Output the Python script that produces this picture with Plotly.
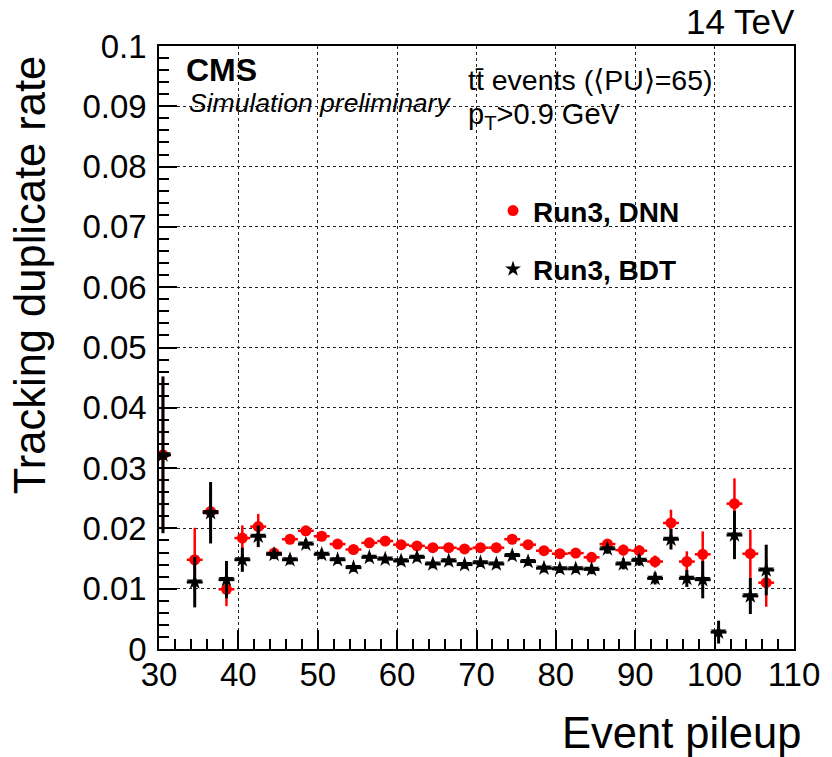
import plotly.graph_objects as go

# Event pileup bin centres
pileup = [30.5, 34.5, 36.5, 38.5, 40.5, 42.5, 44.5, 46.5, 48.5, 50.5,
          52.5, 54.5, 56.5, 58.5, 60.5, 62.5, 64.5, 66.5, 68.5, 70.5,
          72.5, 74.5, 76.5, 78.5, 80.5, 82.5, 84.5, 86.5, 88.5, 90.5,
          92.5, 94.5, 96.5, 98.5, 100.5, 102.5, 104.5, 106.5]

# Duplicate rate, Run3 DNN selection
dnn_rate = [0.0322, 0.0148, 0.0228, 0.0099, 0.0184, 0.0203, 0.0159, 0.0182, 0.0196, 0.0187,
            0.0174, 0.0165, 0.0176, 0.0179, 0.0173, 0.0171, 0.0168, 0.0168, 0.0166, 0.0168,
            0.0168, 0.0182, 0.0173, 0.0163, 0.0158, 0.0159, 0.0152, 0.0174, 0.0164, 0.0163,
            0.0145, 0.0209, 0.0145, 0.0157, None, 0.0241, 0.0158, 0.0110]
dnn_err = [0.0125, 0.0053, 0.0035, 0.0028, 0.0021, 0.0021, 0.0008, 0.0008, 0.0008, 0.0008,
           0.0007, 0.0007, 0.0007, 0.0007, 0.0007, 0.0007, 0.0007, 0.0007, 0.0007, 0.0007,
           0.0007, 0.0007, 0.0007, 0.0007, 0.0007, 0.0007, 0.0008, 0.0008, 0.0009, 0.0009,
           0.0010, 0.0022, 0.0017, 0.0038, 0.0, 0.0042, 0.0040, 0.0040]

# Duplicate rate, Run3 BDT selection
bdt_rate = [0.0322, 0.0111, 0.0226, 0.0115, 0.0148, 0.0187, 0.0157, 0.0148, 0.0174, 0.0157,
            0.0148, 0.0135, 0.0152, 0.0149, 0.0146, 0.0152, 0.0141, 0.0146, 0.0140, 0.0143,
            0.0141, 0.0155, 0.0145, 0.0134, 0.0133, 0.0133, 0.0132, 0.0166, 0.0141, 0.0147,
            0.0117, 0.0182, 0.0117, 0.0115, 0.0028, 0.0189, 0.0088, 0.0131]
bdt_err = [0.0130, 0.0042, 0.0051, 0.0031, 0.0020, 0.0018, 0.0008, 0.0008, 0.0008, 0.0008,
           0.0007, 0.0007, 0.0007, 0.0007, 0.0007, 0.0007, 0.0007, 0.0007, 0.0007, 0.0007,
           0.0007, 0.0007, 0.0007, 0.0007, 0.0007, 0.0007, 0.0008, 0.0008, 0.0009, 0.0009,
           0.0010, 0.0017, 0.0014, 0.0031, 0.0019, 0.0040, 0.0030, 0.0042]

half_bin = 1.0
FONT = "Liberation Sans"

fig = go.Figure()

fig.add_trace(go.Scatter(
    x=pileup, y=dnn_rate, mode="markers", name="<b>Run3, DNN</b>",
    legendgroup="dnn",
    marker=dict(symbol="circle", size=11, color="#ff0000"),
    error_y=dict(type="data", array=dnn_err, color="#ff0000", thickness=2.5, width=0),
    error_x=dict(type="constant", value=half_bin, color="#ff0000", thickness=2.5, width=0),
))
fig.add_trace(go.Scatter(
    x=pileup, y=bdt_rate, mode="markers", name="<b>Run3, BDT</b>",
    legendgroup="bdt",
    marker=dict(symbol="star", size=12, color="#000000"),
    error_y=dict(type="data", array=bdt_err, color="#000000", thickness=3, width=0),
    error_x=dict(type="constant", value=half_bin, color="#000000", thickness=3, width=0),
))

axis_common = dict(
    showline=True, linecolor="black", linewidth=1.5, mirror=True,
    ticks="inside", tickcolor="black", tickwidth=1.5,
    showgrid=True, gridcolor="#222222", griddash="dot", gridwidth=1,
    zeroline=False,
    tickfont=dict(family=FONT, size=33, color="black"),
)

fig.update_xaxes(range=[30, 110], tick0=0, dtick=10, ticklen=19,
                 ticklabelstandoff=-4,
                 minor=dict(dtick=2, ticks="inside", ticklen=10, tickcolor="black",
                            tickwidth=1.5, showgrid=False),
                 **axis_common)
fig.update_yaxes(range=[0, 0.1], tick0=0, dtick=0.01, ticklen=18,
                 ticklabelstandoff=4,
                 minor=dict(dtick=0.002, ticks="inside", ticklen=10, tickcolor="black",
                            tickwidth=1.5, showgrid=False),
                 **axis_common)

# white boxes behind the header texts (they hide the grid)
shapes = [
    dict(type="rect", xref="paper", yref="paper", x0=0, x1=0.453, y0=0.862, y1=1,
         fillcolor="white", line=dict(width=0), layer="below"),
    dict(type="rect", xref="paper", yref="paper", x0=0.472, x1=0.925, y0=0.841, y1=1,
         fillcolor="white", line=dict(width=0), layer="below"),
]

annotations = [
    dict(text="<b>CMS</b>", x=0.040, y=0.960, xanchor="left", yanchor="middle",
         font=dict(family=FONT, size=32, color="black")),
    dict(text="<i>Simulation preliminary</i>", x=0.044, y=0.905, xanchor="left",
         yanchor="middle", font=dict(family=FONT, size=26.5, color="black")),
    dict(text="tt\u0304 events (\u27e8PU\u27e9=65)", x=0.483, y=0.944, xanchor="left",
         yanchor="middle", font=dict(family=FONT, size=28.5, color="black")),
    dict(text="p<sub>T</sub>&gt;0.9 GeV", x=0.483, y=0.884, xanchor="left",
         yanchor="middle", font=dict(family=FONT, size=29, color="black")),
    dict(text="14 TeV", x=1.005, y=1.040, xanchor="right", yanchor="middle",
         font=dict(family=FONT, size=35, color="black")),
    dict(text="Event pileup", x=1.014, y=-0.140, xanchor="right", yanchor="middle",
         font=dict(family=FONT, size=43.5, color="black")),
    dict(text="Tracking duplicate rate", x=-0.202, y=0.986, xanchor="center",
         yanchor="top", textangle=-90,
         font=dict(family=FONT, size=43.5, color="black")),
]
for a in annotations:
    a.update(xref="paper", yref="paper", showarrow=False)

fig.update_layout(
    width=832, height=757,
    margin=dict(l=159, r=29, t=46, b=108),
    plot_bgcolor="white", paper_bgcolor="white",
    shapes=shapes, annotations=annotations,
    showlegend=True,
    legend=dict(x=0.526, y=0.768, xanchor="left", yanchor="top",
                bgcolor="rgba(0,0,0,0)", borderwidth=0,
                traceorder="grouped", tracegroupgap=19,
                font=dict(family=FONT, size=28, color="black")),
)

fig.write_html("out.html")
